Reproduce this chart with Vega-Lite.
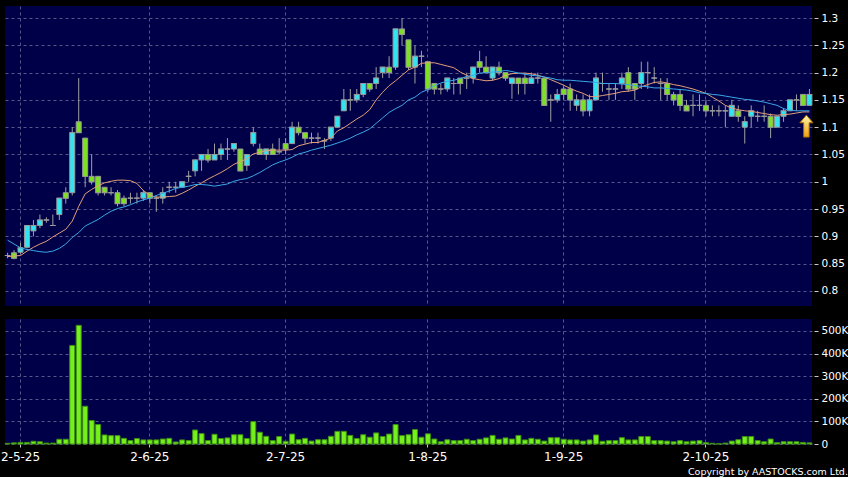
{
  "$schema": "https://vega.github.io/schema/vega-lite/v6.json",
  "background": "#000000",
  "padding": {"left": 0, "top": 6, "right": 0, "bottom": 0},
  "spacing": 13,
  "config": {
    "view": {"fill": "#000048", "stroke": null},
    "axis": {"labelFont": "DejaVu Sans", "labelColor": "#ffffff", "tickColor": "#c8c8c8", "gridColor": "#56568a", "gridDash": [3, 3], "gridWidth": 1, "domain": false, "labelOverlap": false}
  },
  "title": {"text": "Copyright by AASTOCKS.com Ltd.", "orient": "bottom", "anchor": "end", "frame": "bounds", "font": "DejaVu Sans", "fontSize": 9.5, "fontWeight": "normal", "color": "#ffffff", "offset": 5, "baseline": "top"},
  "datasets": {
    "px": [
      {"d":"2025-04-29","o":0.865,"h":0.87,"l":0.86,"c":0.865,"v":3000,"ma10":0.863,"ma20":0.893},
      {"d":"2025-04-30","o":0.87,"h":0.875,"l":0.858,"c":0.86,"v":5000,"ma10":0.864,"ma20":0.886},
      {"d":"2025-05-02","o":0.871,"h":0.888,"l":0.868,"c":0.879,"v":7000,"ma10":0.865,"ma20":0.879},
      {"d":"2025-05-06","o":0.88,"h":0.92,"l":0.878,"c":0.92,"v":7000,"ma10":0.873,"ma20":0.876},
      {"d":"2025-05-07","o":0.91,"h":0.93,"l":0.90,"c":0.92,"v":12000,"ma10":0.880,"ma20":0.874},
      {"d":"2025-05-08","o":0.92,"h":0.94,"l":0.915,"c":0.93,"v":10000,"ma10":0.886,"ma20":0.872},
      {"d":"2025-05-09","o":0.93,"h":0.935,"l":0.925,"c":0.93,"v":4000,"ma10":0.891,"ma20":0.871},
      {"d":"2025-05-12","o":0.92,"h":0.94,"l":0.92,"c":0.92,"v":4000,"ma10":0.899,"ma20":0.873},
      {"d":"2025-05-13","o":0.94,"h":0.97,"l":0.93,"c":0.97,"v":21000,"ma10":0.906,"ma20":0.878},
      {"d":"2025-05-14","o":0.98,"h":0.99,"l":0.96,"c":0.97,"v":21000,"ma10":0.913,"ma20":0.886},
      {"d":"2025-05-15","o":0.98,"h":1.10,"l":0.975,"c":1.09,"v":436000,"ma10":0.928,"ma20":0.898},
      {"d":"2025-05-16","o":1.11,"h":1.19,"l":1.09,"c":1.09,"v":525000,"ma10":0.955,"ma20":0.907},
      {"d":"2025-05-19","o":1.08,"h":1.08,"l":0.99,"c":1.01,"v":167000,"ma10":0.978,"ma20":0.919},
      {"d":"2025-05-20","o":1.01,"h":1.05,"l":0.995,"c":1.00,"v":104000,"ma10":0.986,"ma20":0.925},
      {"d":"2025-05-21","o":1.01,"h":1.01,"l":0.975,"c":0.98,"v":86000,"ma10":0.993,"ma20":0.931},
      {"d":"2025-05-22","o":0.99,"h":0.99,"l":0.975,"c":0.98,"v":40000,"ma10":0.998,"ma20":0.939},
      {"d":"2025-05-23","o":0.98,"h":0.99,"l":0.975,"c":0.98,"v":37000,"ma10":1.001,"ma20":0.946},
      {"d":"2025-05-26","o":0.98,"h":0.985,"l":0.955,"c":0.96,"v":37000,"ma10":1.003,"ma20":0.951},
      {"d":"2025-05-27","o":0.97,"h":0.975,"l":0.955,"c":0.96,"v":25000,"ma10":1.003,"ma20":0.954},
      {"d":"2025-05-28","o":0.97,"h":0.98,"l":0.96,"c":0.97,"v":15000,"ma10":1.002,"ma20":0.958},
      {"d":"2025-05-29","o":0.97,"h":0.98,"l":0.96,"c":0.97,"v":24000,"ma10":0.997,"ma20":0.963},
      {"d":"2025-05-30","o":0.97,"h":0.985,"l":0.965,"c":0.98,"v":18000,"ma10":0.984,"ma20":0.967},
      {"d":"2025-06-02","o":0.98,"h":0.98,"l":0.96,"c":0.97,"v":18000,"ma10":0.975,"ma20":0.970},
      {"d":"2025-06-03","o":0.97,"h":0.975,"l":0.945,"c":0.97,"v":18000,"ma10":0.972,"ma20":0.975},
      {"d":"2025-06-04","o":0.97,"h":0.99,"l":0.96,"c":0.98,"v":22000,"ma10":0.972,"ma20":0.979},
      {"d":"2025-06-05","o":0.99,"h":1.0,"l":0.98,"c":0.99,"v":25000,"ma10":0.973,"ma20":0.983},
      {"d":"2025-06-06","o":0.99,"h":1.0,"l":0.98,"c":0.99,"v":9000,"ma10":0.974,"ma20":0.988},
      {"d":"2025-06-09","o":0.99,"h":1.0,"l":0.99,"c":1.0,"v":18000,"ma10":0.979,"ma20":0.990},
      {"d":"2025-06-10","o":1.01,"h":1.02,"l":1.0,"c":1.01,"v":15000,"ma10":0.985,"ma20":0.992},
      {"d":"2025-06-11","o":1.02,"h":1.04,"l":1.01,"c":1.04,"v":62000,"ma10":0.992,"ma20":0.995},
      {"d":"2025-06-12","o":1.04,"h":1.05,"l":1.02,"c":1.05,"v":46000,"ma10":0.998,"ma20":0.995},
      {"d":"2025-06-13","o":1.05,"h":1.06,"l":1.035,"c":1.04,"v":15000,"ma10":1.005,"ma20":0.994},
      {"d":"2025-06-16","o":1.04,"h":1.07,"l":1.04,"c":1.05,"v":43000,"ma10":1.011,"ma20":0.992},
      {"d":"2025-06-17","o":1.05,"h":1.07,"l":1.04,"c":1.06,"v":24000,"ma10":1.017,"ma20":0.994},
      {"d":"2025-06-18","o":1.06,"h":1.08,"l":1.04,"c":1.06,"v":27000,"ma10":1.024,"ma20":0.996},
      {"d":"2025-06-19","o":1.06,"h":1.07,"l":1.055,"c":1.07,"v":41000,"ma10":1.032,"ma20":1.001},
      {"d":"2025-06-20","o":1.06,"h":1.06,"l":1.02,"c":1.02,"v":41000,"ma10":1.037,"ma20":1.004},
      {"d":"2025-06-23","o":1.03,"h":1.05,"l":1.02,"c":1.05,"v":24000,"ma10":1.042,"ma20":1.006},
      {"d":"2025-06-24","o":1.07,"h":1.10,"l":1.065,"c":1.09,"v":99000,"ma10":1.051,"ma20":1.011},
      {"d":"2025-06-25","o":1.06,"h":1.07,"l":1.05,"c":1.05,"v":52000,"ma10":1.054,"ma20":1.017},
      {"d":"2025-06-26","o":1.05,"h":1.06,"l":1.04,"c":1.06,"v":34000,"ma10":1.057,"ma20":1.024},
      {"d":"2025-06-27","o":1.06,"h":1.07,"l":1.05,"c":1.05,"v":15000,"ma10":1.058,"ma20":1.031},
      {"d":"2025-06-30","o":1.055,"h":1.08,"l":1.05,"c":1.055,"v":33000,"ma10":1.058,"ma20":1.036},
      {"d":"2025-07-02","o":1.07,"h":1.08,"l":1.05,"c":1.06,"v":12000,"ma10":1.058,"ma20":1.040},
      {"d":"2025-07-03","o":1.07,"h":1.11,"l":1.07,"c":1.10,"v":44000,"ma10":1.059,"ma20":1.045},
      {"d":"2025-07-04","o":1.10,"h":1.11,"l":1.085,"c":1.09,"v":19000,"ma10":1.066,"ma20":1.051},
      {"d":"2025-07-07","o":1.09,"h":1.09,"l":1.07,"c":1.08,"v":25000,"ma10":1.069,"ma20":1.054},
      {"d":"2025-07-08","o":1.08,"h":1.09,"l":1.07,"c":1.08,"v":13000,"ma10":1.072,"ma20":1.058},
      {"d":"2025-07-09","o":1.08,"h":1.09,"l":1.07,"c":1.08,"v":19000,"ma10":1.072,"ma20":1.061},
      {"d":"2025-07-10","o":1.075,"h":1.08,"l":1.06,"c":1.075,"v":19000,"ma10":1.076,"ma20":1.064},
      {"d":"2025-07-11","o":1.08,"h":1.10,"l":1.075,"c":1.10,"v":34000,"ma10":1.080,"ma20":1.067},
      {"d":"2025-07-14","o":1.10,"h":1.12,"l":1.10,"c":1.12,"v":56000,"ma10":1.093,"ma20":1.071},
      {"d":"2025-07-15","o":1.13,"h":1.17,"l":1.13,"c":1.15,"v":56000,"ma10":1.099,"ma20":1.075},
      {"d":"2025-07-16","o":1.15,"h":1.17,"l":1.13,"c":1.15,"v":38000,"ma10":1.107,"ma20":1.080},
      {"d":"2025-07-17","o":1.15,"h":1.17,"l":1.145,"c":1.16,"v":24000,"ma10":1.115,"ma20":1.086},
      {"d":"2025-07-18","o":1.16,"h":1.18,"l":1.155,"c":1.18,"v":41000,"ma10":1.122,"ma20":1.091},
      {"d":"2025-07-21","o":1.18,"h":1.18,"l":1.165,"c":1.17,"v":30000,"ma10":1.132,"ma20":1.097},
      {"d":"2025-07-22","o":1.18,"h":1.21,"l":1.17,"c":1.19,"v":49000,"ma10":1.150,"ma20":1.107},
      {"d":"2025-07-23","o":1.20,"h":1.21,"l":1.19,"c":1.21,"v":33000,"ma10":1.164,"ma20":1.117},
      {"d":"2025-07-24","o":1.21,"h":1.23,"l":1.19,"c":1.20,"v":44000,"ma10":1.176,"ma20":1.127},
      {"d":"2025-07-25","o":1.21,"h":1.28,"l":1.205,"c":1.28,"v":86000,"ma10":1.185,"ma20":1.134},
      {"d":"2025-07-28","o":1.28,"h":1.30,"l":1.25,"c":1.27,"v":37000,"ma10":1.195,"ma20":1.140},
      {"d":"2025-07-29","o":1.26,"h":1.26,"l":1.205,"c":1.21,"v":41000,"ma10":1.205,"ma20":1.150},
      {"d":"2025-07-30","o":1.21,"h":1.25,"l":1.18,"c":1.23,"v":64000,"ma10":1.210,"ma20":1.155},
      {"d":"2025-07-31","o":1.23,"h":1.24,"l":1.21,"c":1.23,"v":30000,"ma10":1.217,"ma20":1.164},
      {"d":"2025-08-01","o":1.22,"h":1.22,"l":1.165,"c":1.17,"v":45000,"ma10":1.218,"ma20":1.169},
      {"d":"2025-08-04","o":1.18,"h":1.18,"l":1.16,"c":1.17,"v":22000,"ma10":1.218,"ma20":1.176},
      {"d":"2025-08-05","o":1.17,"h":1.18,"l":1.16,"c":1.17,"v":10000,"ma10":1.215,"ma20":1.181},
      {"d":"2025-08-06","o":1.17,"h":1.19,"l":1.165,"c":1.19,"v":19000,"ma10":1.212,"ma20":1.184},
      {"d":"2025-08-07","o":1.18,"h":1.19,"l":1.16,"c":1.18,"v":15000,"ma10":1.209,"ma20":1.186},
      {"d":"2025-08-08","o":1.19,"h":1.19,"l":1.16,"c":1.18,"v":15000,"ma10":1.201,"ma20":1.189},
      {"d":"2025-08-11","o":1.19,"h":1.20,"l":1.17,"c":1.19,"v":21000,"ma10":1.195,"ma20":1.193},
      {"d":"2025-08-12","o":1.19,"h":1.21,"l":1.18,"c":1.21,"v":15000,"ma10":1.189,"ma20":1.195},
      {"d":"2025-08-13","o":1.22,"h":1.24,"l":1.20,"c":1.21,"v":21000,"ma10":1.187,"ma20":1.199},
      {"d":"2025-08-14","o":1.21,"h":1.23,"l":1.20,"c":1.20,"v":27000,"ma10":1.185,"ma20":1.200},
      {"d":"2025-08-15","o":1.19,"h":1.21,"l":1.185,"c":1.21,"v":38000,"ma10":1.186,"ma20":1.201},
      {"d":"2025-08-18","o":1.21,"h":1.22,"l":1.195,"c":1.20,"v":21000,"ma10":1.189,"ma20":1.202},
      {"d":"2025-08-19","o":1.20,"h":1.20,"l":1.185,"c":1.19,"v":27000,"ma10":1.195,"ma20":1.204},
      {"d":"2025-08-20","o":1.18,"h":1.19,"l":1.152,"c":1.19,"v":22000,"ma10":1.198,"ma20":1.202},
      {"d":"2025-08-21","o":1.19,"h":1.19,"l":1.16,"c":1.18,"v":38000,"ma10":1.199,"ma20":1.199},
      {"d":"2025-08-22","o":1.19,"h":1.20,"l":1.16,"c":1.18,"v":18000,"ma10":1.199,"ma20":1.197},
      {"d":"2025-08-25","o":1.18,"h":1.20,"l":1.18,"c":1.19,"v":25000,"ma10":1.198,"ma20":1.195},
      {"d":"2025-08-26","o":1.19,"h":1.20,"l":1.18,"c":1.19,"v":21000,"ma10":1.195,"ma20":1.194},
      {"d":"2025-08-27","o":1.19,"h":1.19,"l":1.14,"c":1.14,"v":13000,"ma10":1.192,"ma20":1.192},
      {"d":"2025-08-28","o":1.15,"h":1.16,"l":1.11,"c":1.15,"v":28000,"ma10":1.187,"ma20":1.190},
      {"d":"2025-08-29","o":1.15,"h":1.17,"l":1.145,"c":1.16,"v":28000,"ma10":1.182,"ma20":1.187},
      {"d":"2025-09-01","o":1.17,"h":1.175,"l":1.15,"c":1.16,"v":21000,"ma10":1.177,"ma20":1.186},
      {"d":"2025-09-02","o":1.17,"h":1.18,"l":1.13,"c":1.15,"v":18000,"ma10":1.171,"ma20":1.186},
      {"d":"2025-09-03","o":1.14,"h":1.16,"l":1.13,"c":1.15,"v":18000,"ma10":1.166,"ma20":1.185},
      {"d":"2025-09-04","o":1.15,"h":1.16,"l":1.12,"c":1.13,"v":13000,"ma10":1.162,"ma20":1.184},
      {"d":"2025-09-05","o":1.13,"h":1.16,"l":1.12,"c":1.15,"v":18000,"ma10":1.156,"ma20":1.183},
      {"d":"2025-09-08","o":1.15,"h":1.20,"l":1.15,"c":1.19,"v":40000,"ma10":1.156,"ma20":1.182},
      {"d":"2025-09-09","o":1.18,"h":1.20,"l":1.165,"c":1.18,"v":12000,"ma10":1.158,"ma20":1.180},
      {"d":"2025-09-10","o":1.17,"h":1.18,"l":1.15,"c":1.17,"v":15000,"ma10":1.160,"ma20":1.180},
      {"d":"2025-09-11","o":1.17,"h":1.18,"l":1.15,"c":1.17,"v":15000,"ma10":1.162,"ma20":1.180},
      {"d":"2025-09-12","o":1.18,"h":1.20,"l":1.17,"c":1.19,"v":28000,"ma10":1.165,"ma20":1.179},
      {"d":"2025-09-15","o":1.20,"h":1.21,"l":1.165,"c":1.17,"v":18000,"ma10":1.166,"ma20":1.178},
      {"d":"2025-09-16","o":1.18,"h":1.18,"l":1.15,"c":1.17,"v":18000,"ma10":1.168,"ma20":1.176},
      {"d":"2025-09-17","o":1.18,"h":1.22,"l":1.17,"c":1.20,"v":33000,"ma10":1.174,"ma20":1.175},
      {"d":"2025-09-18","o":1.20,"h":1.22,"l":1.17,"c":1.20,"v":33000,"ma10":1.178,"ma20":1.174},
      {"d":"2025-09-19","o":1.19,"h":1.21,"l":1.18,"c":1.19,"v":15000,"ma10":1.182,"ma20":1.172},
      {"d":"2025-09-22","o":1.18,"h":1.19,"l":1.15,"c":1.18,"v":15000,"ma10":1.183,"ma20":1.172},
      {"d":"2025-09-23","o":1.18,"h":1.19,"l":1.15,"c":1.16,"v":13000,"ma10":1.181,"ma20":1.171},
      {"d":"2025-09-24","o":1.16,"h":1.165,"l":1.14,"c":1.15,"v":10000,"ma10":1.178,"ma20":1.170},
      {"d":"2025-09-25","o":1.16,"h":1.17,"l":1.13,"c":1.14,"v":15000,"ma10":1.176,"ma20":1.169},
      {"d":"2025-09-26","o":1.14,"h":1.15,"l":1.13,"c":1.13,"v":10000,"ma10":1.173,"ma20":1.168},
      {"d":"2025-09-29","o":1.14,"h":1.16,"l":1.12,"c":1.14,"v":13000,"ma10":1.170,"ma20":1.166},
      {"d":"2025-09-30","o":1.14,"h":1.16,"l":1.13,"c":1.14,"v":15000,"ma10":1.166,"ma20":1.163},
      {"d":"2025-10-02","o":1.14,"h":1.15,"l":1.12,"c":1.13,"v":6000,"ma10":1.162,"ma20":1.162},
      {"d":"2025-10-03","o":1.13,"h":1.14,"l":1.12,"c":1.13,"v":3000,"ma10":1.155,"ma20":1.160},
      {"d":"2025-10-06","o":1.13,"h":1.14,"l":1.12,"c":1.13,"v":1000,"ma10":1.148,"ma20":1.159},
      {"d":"2025-10-08","o":1.13,"h":1.14,"l":1.10,"c":1.13,"v":4000,"ma10":1.140,"ma20":1.157},
      {"d":"2025-10-09","o":1.12,"h":1.15,"l":1.12,"c":1.14,"v":13000,"ma10":1.135,"ma20":1.155},
      {"d":"2025-10-10","o":1.13,"h":1.14,"l":1.11,"c":1.12,"v":19000,"ma10":1.132,"ma20":1.153},
      {"d":"2025-10-13","o":1.10,"h":1.12,"l":1.07,"c":1.11,"v":33000,"ma10":1.130,"ma20":1.151},
      {"d":"2025-10-14","o":1.12,"h":1.14,"l":1.10,"c":1.13,"v":33000,"ma10":1.129,"ma20":1.150},
      {"d":"2025-10-15","o":1.12,"h":1.13,"l":1.11,"c":1.12,"v":15000,"ma10":1.127,"ma20":1.148},
      {"d":"2025-10-16","o":1.12,"h":1.14,"l":1.11,"c":1.12,"v":10000,"ma10":1.125,"ma20":1.146},
      {"d":"2025-10-17","o":1.12,"h":1.125,"l":1.08,"c":1.10,"v":22000,"ma10":1.123,"ma20":1.143},
      {"d":"2025-10-20","o":1.10,"h":1.12,"l":1.10,"c":1.12,"v":6000,"ma10":1.122,"ma20":1.140},
      {"d":"2025-10-21","o":1.12,"h":1.135,"l":1.11,"c":1.13,"v":10000,"ma10":1.123,"ma20":1.134},
      {"d":"2025-10-22","o":1.13,"h":1.15,"l":1.13,"c":1.15,"v":10000,"ma10":1.124,"ma20":1.131},
      {"d":"2025-10-23","o":1.15,"h":1.16,"l":1.13,"c":1.15,"v":10000,"ma10":1.126,"ma20":1.130},
      {"d":"2025-10-24","o":1.16,"h":1.16,"l":1.14,"c":1.14,"v":7000,"ma10":1.128,"ma20":1.130},
      {"d":"2025-10-27","o":1.14,"h":1.17,"l":1.14,"c":1.16,"v":5000,"ma10":1.128,"ma20":1.130}
    ],
    "arrow": [{"d":"2025-10-27","p":1.102}]
  },
  "vconcat": [
    {
      "width": 807,
      "height": 300,
      "data": {"name": "px"},
      "encoding": {
        "x": {"field": "d", "type": "ordinal", "title": null,
          "scale": {"paddingInner": 0.2, "paddingOuter": 0},
          "axis": {"values": ["2025-05-02","2025-06-02","2025-07-02","2025-08-01","2025-09-01","2025-10-02"], "labels": false, "ticks": false, "grid": true, "bandPosition": 0.5}}
      },
      "layer": [
        {"mark": {"type": "rule", "color": "#a0a0a0", "strokeWidth": 1},
         "encoding": {
           "y": {"field": "l", "type": "quantitative", "title": null,
             "scale": {"domain": [0.7725, 1.322], "nice": false, "zero": false},
             "axis": {"orient": "right", "values": [0.8,0.85,0.9,0.95,1,1.05,1.1,1.15,1.2,1.25,1.3], "format": ".2~f", "tickSize": 4, "offset": 2, "labelPadding": 3, "labelFontSize": 10.5, "grid": true, "labelOverlap": false, "tickCount": 11}},
           "y2": {"field": "h"}}},
        {"mark": {"type": "tick", "color": "#a0a0a0", "size": 6, "thickness": 1},
         "encoding": {"y": {"field": "c", "type": "quantitative", "title": null,
             "axis": {"orient": "right", "values": [0.8,0.85,0.9,0.95,1,1.05,1.1,1.15,1.2,1.25,1.3], "format": ".2~f", "tickSize": 4, "offset": 2, "labelPadding": 3, "labelFontSize": 10.5, "grid": true, "labelOverlap": false, "tickCount": 11}}}},
        {"mark": {"type": "bar", "size": 5, "stroke": "#9a9a9a", "strokeWidth": 1},
         "encoding": {
           "y": {"field": "o", "type": "quantitative", "title": null,
             "axis": {"orient": "right", "values": [0.8,0.85,0.9,0.95,1,1.05,1.1,1.15,1.2,1.25,1.3], "format": ".2~f", "tickSize": 4, "offset": 2, "labelPadding": 3, "labelFontSize": 10.5, "grid": true, "labelOverlap": false, "tickCount": 11}},
           "y2": {"field": "c"},
           "fill": {"condition": {"test": "datum.c > datum.o", "value": "#33e3f0"}, "value": "#7de022"}}},
        {"mark": {"type": "line", "color": "#e6a078", "strokeWidth": 1},
         "encoding": {"y": {"field": "ma10", "type": "quantitative", "title": null,
             "axis": {"orient": "right", "values": [0.8,0.85,0.9,0.95,1,1.05,1.1,1.15,1.2,1.25,1.3], "format": ".2~f", "tickSize": 4, "offset": 2, "labelPadding": 3, "labelFontSize": 10.5, "grid": true, "labelOverlap": false, "tickCount": 11}}}},
        {"mark": {"type": "line", "color": "#3aa8e8", "strokeWidth": 1},
         "encoding": {"y": {"field": "ma20", "type": "quantitative", "title": null,
             "axis": {"orient": "right", "values": [0.8,0.85,0.9,0.95,1,1.05,1.1,1.15,1.2,1.25,1.3], "format": ".2~f", "tickSize": 4, "offset": 2, "labelPadding": 3, "labelFontSize": 10.5, "grid": true, "labelOverlap": false, "tickCount": 11}}}},
        {"data": {"name": "arrow"},
         "mark": {"type": "point", "shape": "M0,-1 L0.6,-0.3 L0.25,-0.3 L0.25,1 L-0.25,1 L-0.25,-0.3 L-0.6,-0.3 Z", "size": 484, "filled": true,
           "fill": {"gradient": "linear", "x1": 0, "y1": 0, "x2": 0, "y2": 1, "stops": [{"offset": 0, "color": "#fff6a8"}, {"offset": 1, "color": "#f0a010"}]},
           "stroke": "#a86a00", "strokeWidth": 1, "opacity": 1, "xOffset": -3},
         "encoding": {"y": {"field": "p", "type": "quantitative", "title": null,
             "axis": {"orient": "right", "values": [0.8,0.85,0.9,0.95,1,1.05,1.1,1.15,1.2,1.25,1.3], "format": ".2~f", "tickSize": 4, "offset": 2, "labelPadding": 3, "labelFontSize": 10.5, "grid": true, "labelOverlap": false, "tickCount": 11}}}}
      ]
    },
    {
      "width": 807,
      "height": 125,
      "data": {"name": "px"},
      "mark": {"type": "bar", "size": 5, "fill": "#76f01c", "stroke": "#3d8f12", "strokeWidth": 1},
      "encoding": {
        "x": {"field": "d", "type": "ordinal", "title": null,
          "scale": {"paddingInner": 0.2, "paddingOuter": 0},
          "axis": {"values": ["2025-05-02","2025-06-02","2025-07-02","2025-08-01","2025-09-01","2025-10-02"],
            "labelExpr": "toNumber(slice(datum.value, 8, 10)) + '-' + toNumber(slice(datum.value, 5, 7)) + '-' + slice(datum.value, 2, 4)",
            "grid": true, "bandPosition": 0.5, "tickSize": 3, "labelPadding": 4, "labelFontSize": 12, "labelAngle": 0}},
        "y": {"field": "v", "type": "quantitative", "title": null,
          "scale": {"domain": [0, 553000], "nice": false},
          "axis": {"orient": "right", "values": [0,100000,200000,300000,400000,500000],
            "labelExpr": "datum.value == 0 ? '0' : (datum.value/1000) + 'K'",
            "tickSize": 4, "offset": 2, "labelPadding": 3, "labelFontSize": 10.5, "grid": true, "labelOverlap": false}}
      }
    }
  ]
}
